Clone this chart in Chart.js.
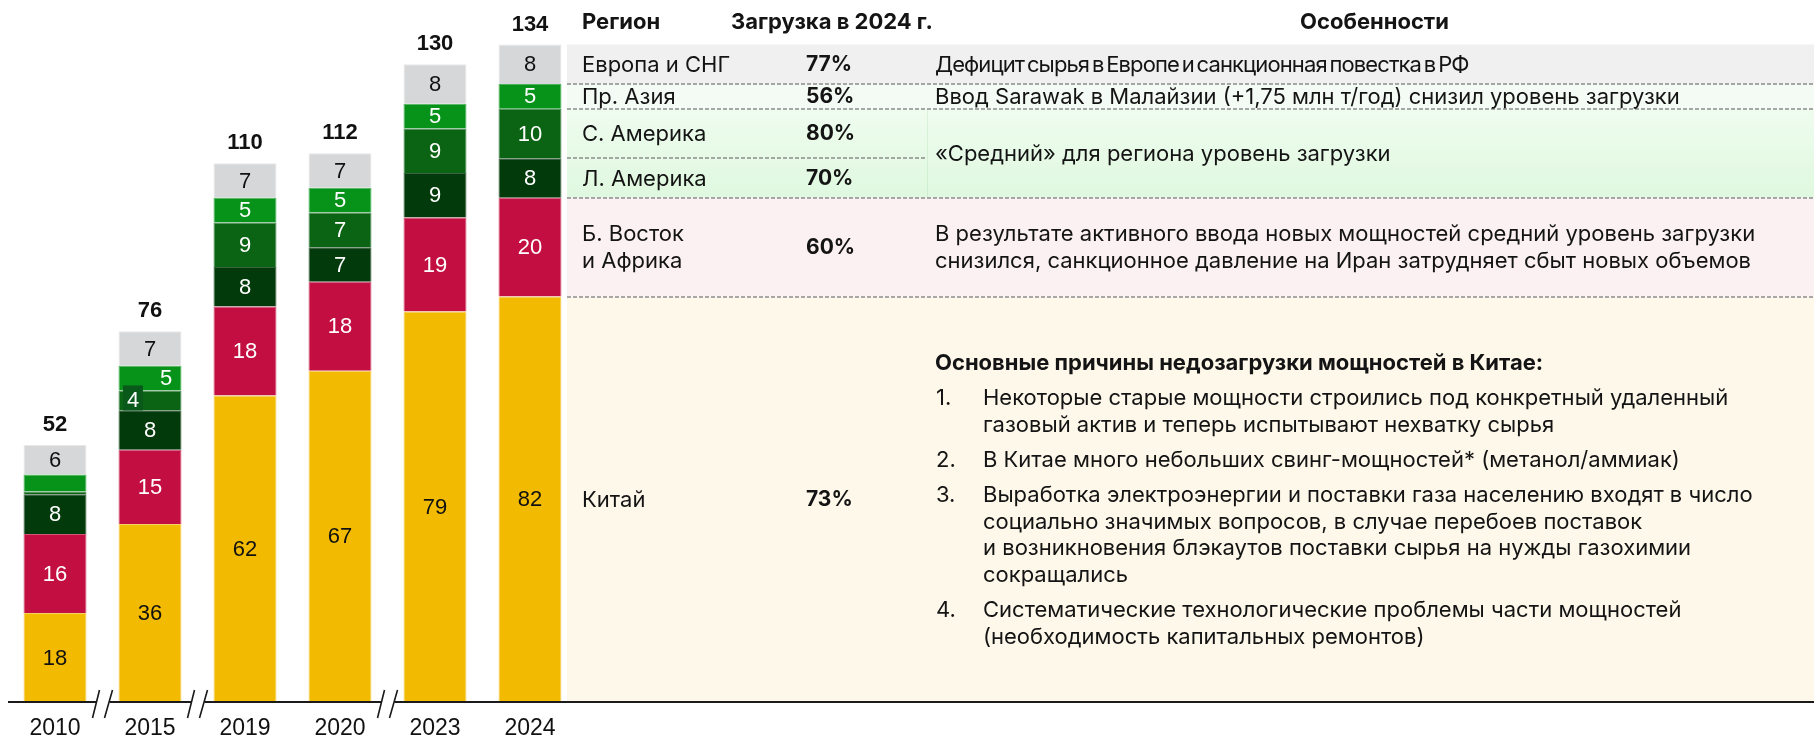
<!DOCTYPE html>
<html lang="ru"><head><meta charset="utf-8"><title>Загрузка мощностей 2024</title>
<script src="https://cdn.jsdelivr.net/npm/chart.js@4.4.1/dist/chart.umd.min.js"></script>
<style>
html,body{margin:0;padding:0;background:#fff;}
#wrap{position:relative;width:1814px;height:737px;overflow:hidden;}
#c{position:absolute;left:0;top:0;}
#tbl{position:absolute;left:0;top:0;width:1814px;height:737px;font-family:Inter,'Noto Sans',sans-serif;font-size:22px;line-height:26.7px;color:#141414;}
.hd{position:absolute;top:8px;font-weight:700;white-space:nowrap;}
.row{position:absolute;left:567px;width:1247px;}
.cell{position:absolute;top:0;bottom:0;display:flex;align-items:center;white-space:nowrap;}
.reg{left:15px;}
.pct{left:239px;font-weight:700;font-size:21px;}
.note{left:368px;right:0;}
.tight{letter-spacing:-0.9px;word-spacing:-2.5px;}
.b{font-weight:700;margin-bottom:1px;}
.item{position:relative;padding-left:48px;margin-top:8.3px;}
.item span{position:absolute;left:1px;top:0;}
</style></head>
<body><div id="wrap"><canvas id="c" width="1814" height="737"></canvas><div id="tbl"></div></div>
<script>
/* data, stacked bottom -> top */
var years=['2010','2015','2019','2020','2023','2024'];
var china=[18,36,62,67,79,82];
var meAfrica=[16,15,18,18,19,20];
var latAm=[8,8,8,7,9,8];
var northAm=[0.6,4,9,7,9,10];
var asiaPac=[3.4,5,5,5,5,5];
var europeCis=[6,7,7,7,8,8];
var totals=[52,76,110,112,130,134];
var regionNames=['Китай','Б. Восток<br>и Африка','Л. Америка','С. Америка','Пр. Азия','Европа и СНГ'];
var load2024=['73%','60%','70%','80%','56%','77%'];
var notes=[null,'В результате активного ввода новых мощностей средний уровень загрузки<br>снизился, санкционное давление на Иран затрудняет сбыт новых объемов',null,null,
	'Ввод Sarawak в Малайзии (+1,75 млн т/год) снизил уровень загрузки','<span class="tight">Дефицит сырья в Европе и санкционная повестка в РФ</span>'];
var noteAmericas='«Средний» для региона уровень загрузки';
var chinaTitle='Основные причины недозагрузки мощностей в Китае:';
var chinaReasons=['Некоторые старые мощности строились под конкретный удаленный<br>газовый актив и теперь испытывают нехватку сырья',
	'В Китае много небольших свинг-мощностей* (метанол/аммиак)',
	'Выработка электроэнергии и поставки газа населению входят в число<br>социально значимых вопросов, в случае перебоев поставок<br>и возникновения блэкаутов поставки сырья на нужды газохимии<br>сокращались',
	'Систематические технологические проблемы части мощностей<br>(необходимость капитальных ремонтов)'];
var headers=['Регион','Загрузка в 2024 г.','Особенности'];
var stacks=[china,meAfrica,latAm,northAm,asiaPac,europeCis];
var breaksAfter=[0,1,3];
var unlabeled=[[3,0],[4,0]];
var nudge={'3-1':-17,'4-1':16};
/* ######################################################################## */
var TL=567,TR=1814,TM=927;
var rowEdges=function(chart){let y=chart.scales.y,last=years.length-1,cum=0,e=[y.getPixelForValue(0)];
	stacks.forEach(function(s){cum+=s[last];e.push(y.getPixelForValue(cum));});return e;};
var tableBg={id:'tableBg',beforeDatasetsDraw:function(chart){const c=chart.ctx,e=rowEdges(chart);c.save();
	const fills=['#FEF8EB','#FBF1F3',null,null,'#F4FAF4','#F0F0F0'];
	fills.forEach(function(f,i){if(f){c.fillStyle=f;c.fillRect(TL,e[i+1],TR-TL,e[i]-e[i+1]);}});
	let g=c.createLinearGradient(0,e[4],0,e[2]);g.addColorStop(0,'#EFFCEF');g.addColorStop(1,'#DFF8DF');
	c.fillStyle=g;c.fillRect(TL,e[4],TR-TL,e[2]-e[4]);
	c.strokeStyle='rgba(0,110,0,0.08)';c.lineWidth=1;c.beginPath();c.moveTo(TM+0.5,e[4]);c.lineTo(TM+0.5,e[2]);c.stroke();
	c.strokeStyle='#8c8c8c';c.lineWidth=1.5;c.setLineDash([4,2]);
	for(let i=1;i<=5;i++){let yy=Math.round(e[i]);c.beginPath();c.moveTo(TL,yy);c.lineTo(i==3?TM:TR,yy);c.stroke();}
	c.restore();}};
var segLabels={id:'segLabels',afterDatasetsDraw:function(chart){const c=chart.ctx;c.save();c.textAlign='center';c.textBaseline='middle';
	c.font='22px "Liberation Sans", Arial, sans-serif';
	chart.data.datasets.forEach(function(ds,di){chart.getDatasetMeta(di).data.forEach(function(bar,i){
		if(unlabeled.some(function(u){return u[0]==di&&u[1]==i})){return;}
		const p=bar.getProps(['x','y','base'],true),cy=(p.y+p.base)/2,cx=p.x+(nudge[di+'-'+i]||0);
		if(nudge[di+'-'+i]<0){c.fillStyle='#08591A';c.fillRect(cx-10,cy-15,20,25);}
		c.fillStyle=ds.txt;c.fillText(String(ds.data[i]),cx,cy+1);});});
	/* totals above stacks */
	const top=chart.getDatasetMeta(chart.data.datasets.length-1).data;
	c.font='bold 22px "Liberation Sans", Arial, sans-serif';c.fillStyle='#111';
	top.forEach(function(bar,i){c.fillText(String(totals[i]),bar.x,bar.y-20);});
	c.restore();}};
var axisBreaks={id:'axisBreaks',afterDraw:function(chart){const c=chart.ctx,a=chart.chartArea,x=chart.scales.x,y=Math.round(a.bottom);c.save();
	c.strokeStyle='#1a1a1a';c.lineWidth=2;c.beginPath();c.moveTo(8,y);c.lineTo(TR,y);c.stroke();
	breaksAfter.forEach(function(k){const m=(x.getPixelForValue(k)+x.getPixelForValue(k+1))/2;
		c.fillStyle='#fff';c.fillRect(m-6,y-2,13,4);c.lineWidth=1.6;
		c.beginPath();c.moveTo(m-10,y+16);c.lineTo(m-3,y-12);c.moveTo(m+2,y+16);c.lineTo(m+10,y-12);c.stroke();});
	c.restore();}};
/* ######################################################################## */
var chart=new Chart(document.getElementById('c'),{type:'bar',
	data:{labels:years,datasets:[
		{label:'Китай',data:china,backgroundColor:'#F2BA00',borderColor:'#F5D266',txt:'#111'},
		{label:'Б. Восток и Африка',data:meAfrica,backgroundColor:'#C30E41',borderColor:'#D35679',txt:'#fff'},
		{label:'Л. Америка',data:latAm,backgroundColor:'#033A0B',borderColor:'#3A6440',txt:'#fff'},
		{label:'С. Америка',data:northAm,backgroundColor:'#0B6414',borderColor:'#4A8A50',txt:'#fff'},
		{label:'Пр. Азия',data:asiaPac,backgroundColor:'#07931A',borderColor:'#4DB35A',txt:'#fff'},
		{label:'Европа и СНГ',data:europeCis,backgroundColor:'#D6D7D9',borderColor:'#E8E8E9',txt:'#111'}]},
	options:{responsive:false,devicePixelRatio:1,animation:false,
		layout:{padding:{left:7.5,right:1236.5,top:0,bottom:0}},
		datasets:{bar:{categoryPercentage:1,barPercentage:0.663,borderWidth:{top:1,left:1,right:1,bottom:0},borderSkipped:false}},
		plugins:{legend:{display:false},tooltip:{enabled:false}},
		scales:{x:{stacked:true,grid:{display:false,drawTicks:false},border:{display:false},
				ticks:{font:{family:'"Liberation Sans", Arial, sans-serif',size:23},color:'#111',padding:13,maxRotation:0,autoSkip:false},
				afterFit:function(s){s.height=35;}},
			y:{stacked:true,display:false,min:0,max:142}}},
	plugins:[tableBg,segLabels,axisBreaks]});
/* ######################################################################## */
var buildTable=function(chart){const t=document.getElementById('tbl'),e=rowEdges(chart);let h='';
	h+='<div class="hd" style="left:582px">'+headers[0]+'</div><div class="hd" style="left:731px">'+headers[1]+'</div>';
	h+='<div class="hd" style="left:935px;width:879px;text-align:center">'+headers[2]+'</div>';
	for(let i=0;i<regionNames.length;i++){let note='';
		if(notes[i]){note='<div class="cell note"><div>'+notes[i]+'</div></div>';}
		else if(i==0){let li='';chinaReasons.forEach(function(r,k){li+='<div class="item"><span>'+(k+1)+'.</span>'+r+'</div>';});
			note='<div class="cell note"><div><div class="b">'+chinaTitle+'</div>'+li+'</div></div>';}
		h+='<div class="row" style="top:'+e[i+1]+'px;height:'+(e[i]-e[i+1])+'px"><div class="cell reg"><div>'+regionNames[i]+'</div></div>'+
			'<div class="cell pct">'+load2024[i]+'</div>'+note+'</div>';}
	h+='<div class="row" style="top:'+e[4]+'px;height:'+(e[2]-e[4])+'px"><div class="cell note">'+noteAmericas+'</div></div>';
	t.innerHTML=h;};
buildTable(chart);
</script></body></html>
